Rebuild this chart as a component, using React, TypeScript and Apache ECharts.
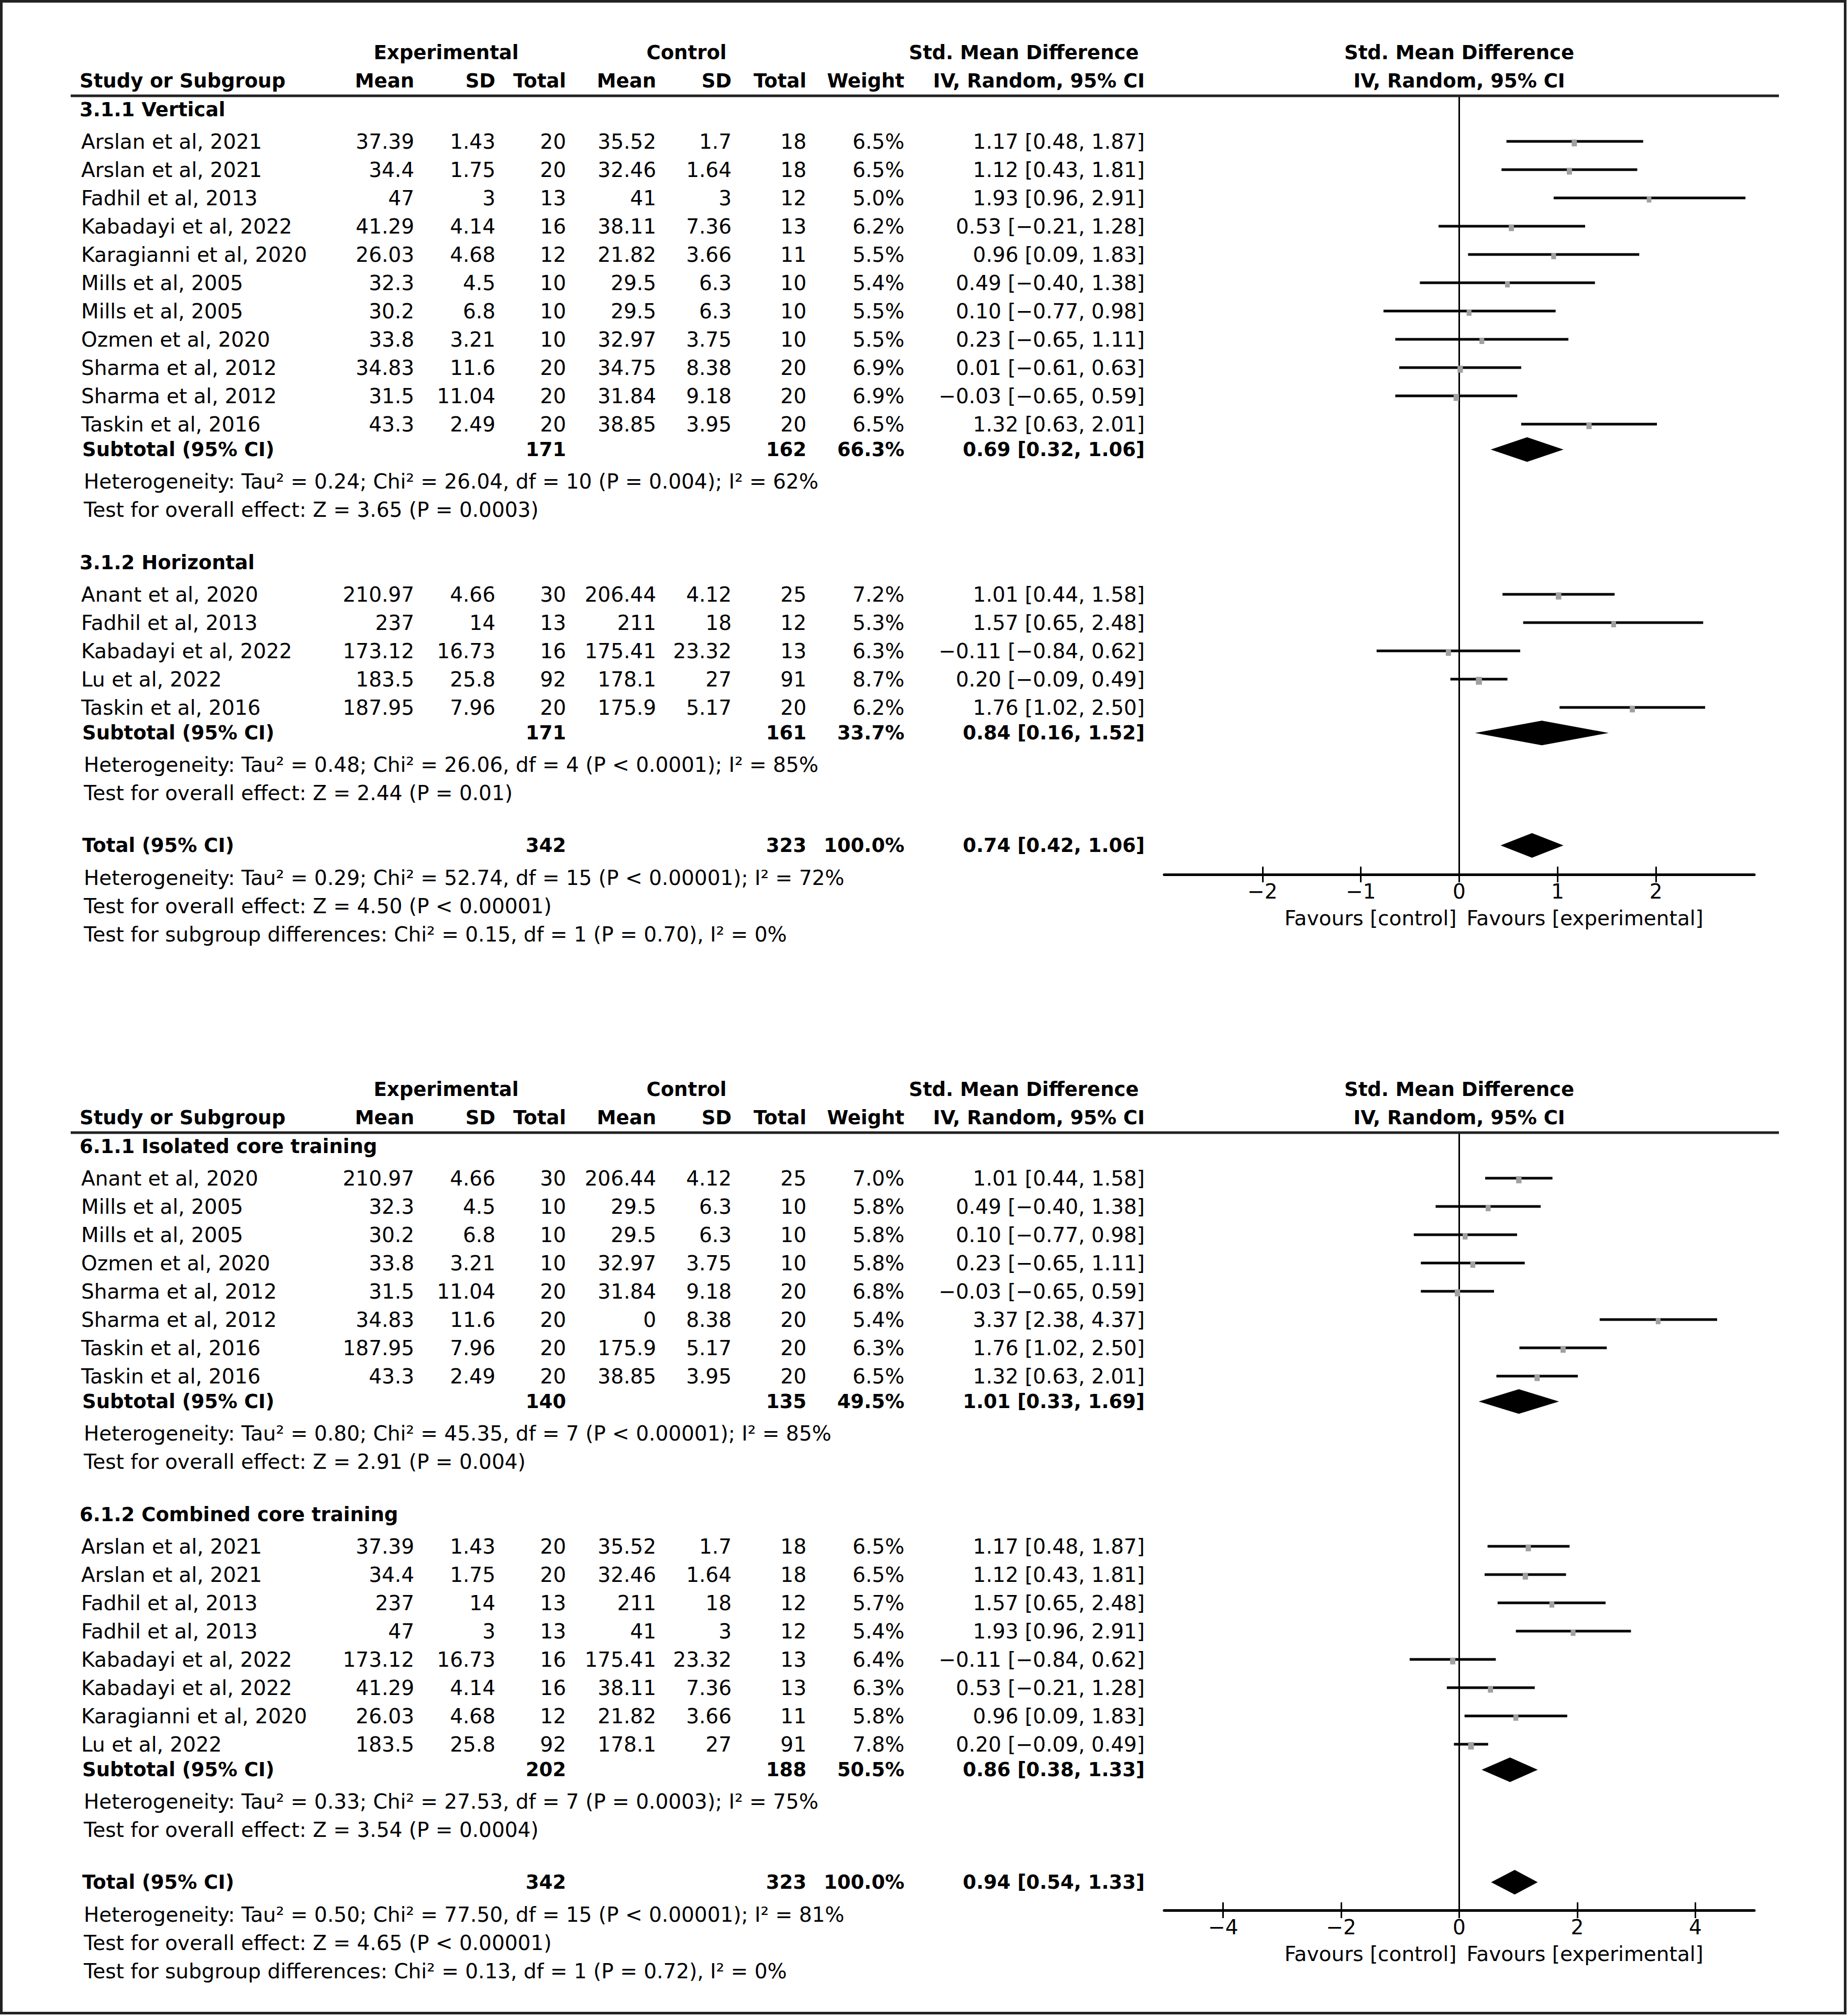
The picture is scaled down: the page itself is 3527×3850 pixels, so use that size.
import React, { useEffect, useRef } from "react";
import * as echarts from "echarts";

// name, expMean, expSD, expN, ctlMean, ctlSD, ctlN, weight(%), SMD, lower, upper
type Study = [string, number, number, number, number, number, number, number, number, number, number];
// expN, ctlN, weight(%), SMD, lower, upper
type Summary = [number, number, number, number, number, number];

// ---------- Panel 1 (3.1) ----------
const P1_SECTION_TITLES = ["3.1.1 Vertical", "3.1.2 Horizontal"];
const P1_VERTICAL: Study[] = [
  ["Arslan et al, 2021", 37.39, 1.43, 20, 35.52, 1.7, 18, 6.5, 1.17, 0.48, 1.87],
  ["Arslan et al, 2021", 34.4, 1.75, 20, 32.46, 1.64, 18, 6.5, 1.12, 0.43, 1.81],
  ["Fadhil et al, 2013", 47, 3, 13, 41, 3, 12, 5.0, 1.93, 0.96, 2.91],
  ["Kabadayi et al, 2022", 41.29, 4.14, 16, 38.11, 7.36, 13, 6.2, 0.53, -0.21, 1.28],
  ["Karagianni et al, 2020", 26.03, 4.68, 12, 21.82, 3.66, 11, 5.5, 0.96, 0.09, 1.83],
  ["Mills et al, 2005", 32.3, 4.5, 10, 29.5, 6.3, 10, 5.4, 0.49, -0.40, 1.38],
  ["Mills et al, 2005", 30.2, 6.8, 10, 29.5, 6.3, 10, 5.5, 0.10, -0.77, 0.98],
  ["Ozmen et al, 2020", 33.8, 3.21, 10, 32.97, 3.75, 10, 5.5, 0.23, -0.65, 1.11],
  ["Sharma et al, 2012", 34.83, 11.6, 20, 34.75, 8.38, 20, 6.9, 0.01, -0.61, 0.63],
  ["Sharma et al, 2012", 31.5, 11.04, 20, 31.84, 9.18, 20, 6.9, -0.03, -0.65, 0.59],
  ["Taskin et al, 2016", 43.3, 2.49, 20, 38.85, 3.95, 20, 6.5, 1.32, 0.63, 2.01],
];
const P1_HORIZONTAL: Study[] = [
  ["Anant et al, 2020", 210.97, 4.66, 30, 206.44, 4.12, 25, 7.2, 1.01, 0.44, 1.58],
  ["Fadhil et al, 2013", 237, 14, 13, 211, 18, 12, 5.3, 1.57, 0.65, 2.48],
  ["Kabadayi et al, 2022", 173.12, 16.73, 16, 175.41, 23.32, 13, 6.3, -0.11, -0.84, 0.62],
  ["Lu et al, 2022", 183.5, 25.8, 92, 178.1, 27, 91, 8.7, 0.20, -0.09, 0.49],
  ["Taskin et al, 2016", 187.95, 7.96, 20, 175.9, 5.17, 20, 6.2, 1.76, 1.02, 2.50],
];
const P1_SUBTOTALS: Summary[] = [
  [171, 162, 66.3, 0.69, 0.32, 1.06],
  [171, 161, 33.7, 0.84, 0.16, 1.52],
];
const P1_SECTION_NOTES: string[][] = [
  [
    "Heterogeneity: Tau² = 0.24; Chi² = 26.04, df = 10 (P = 0.004); I² = 62%",
    "Test for overall effect: Z = 3.65 (P = 0.0003)",
  ],
  [
    "Heterogeneity: Tau² = 0.48; Chi² = 26.06, df = 4 (P < 0.0001); I² = 85%",
    "Test for overall effect: Z = 2.44 (P = 0.01)",
  ],
];
const P1_TOTAL: Summary = [342, 323, 100.0, 0.74, 0.42, 1.06];
const P1_TOTAL_NOTES = [
  "Heterogeneity: Tau² = 0.29; Chi² = 52.74, df = 15 (P < 0.00001); I² = 72%",
  "Test for overall effect: Z = 4.50 (P < 0.00001)",
  "Test for subgroup differences: Chi² = 0.15, df = 1 (P = 0.70), I² = 0%",
];
const P1_TICKS = [-2, -1, 0, 1, 2];
const P1_RANGE = [-3, 3];

// ---------- Panel 2 (6.1) ----------
const P2_SECTION_TITLES = ["6.1.1 Isolated core training", "6.1.2 Combined core training"];
const P2_ISOLATED: Study[] = [
  ["Anant et al, 2020", 210.97, 4.66, 30, 206.44, 4.12, 25, 7.0, 1.01, 0.44, 1.58],
  ["Mills et al, 2005", 32.3, 4.5, 10, 29.5, 6.3, 10, 5.8, 0.49, -0.40, 1.38],
  ["Mills et al, 2005", 30.2, 6.8, 10, 29.5, 6.3, 10, 5.8, 0.10, -0.77, 0.98],
  ["Ozmen et al, 2020", 33.8, 3.21, 10, 32.97, 3.75, 10, 5.8, 0.23, -0.65, 1.11],
  ["Sharma et al, 2012", 31.5, 11.04, 20, 31.84, 9.18, 20, 6.8, -0.03, -0.65, 0.59],
  ["Sharma et al, 2012", 34.83, 11.6, 20, 0, 8.38, 20, 5.4, 3.37, 2.38, 4.37],
  ["Taskin et al, 2016", 187.95, 7.96, 20, 175.9, 5.17, 20, 6.3, 1.76, 1.02, 2.50],
  ["Taskin et al, 2016", 43.3, 2.49, 20, 38.85, 3.95, 20, 6.5, 1.32, 0.63, 2.01],
];
const P2_COMBINED: Study[] = [
  ["Arslan et al, 2021", 37.39, 1.43, 20, 35.52, 1.7, 18, 6.5, 1.17, 0.48, 1.87],
  ["Arslan et al, 2021", 34.4, 1.75, 20, 32.46, 1.64, 18, 6.5, 1.12, 0.43, 1.81],
  ["Fadhil et al, 2013", 237, 14, 13, 211, 18, 12, 5.7, 1.57, 0.65, 2.48],
  ["Fadhil et al, 2013", 47, 3, 13, 41, 3, 12, 5.4, 1.93, 0.96, 2.91],
  ["Kabadayi et al, 2022", 173.12, 16.73, 16, 175.41, 23.32, 13, 6.4, -0.11, -0.84, 0.62],
  ["Kabadayi et al, 2022", 41.29, 4.14, 16, 38.11, 7.36, 13, 6.3, 0.53, -0.21, 1.28],
  ["Karagianni et al, 2020", 26.03, 4.68, 12, 21.82, 3.66, 11, 5.8, 0.96, 0.09, 1.83],
  ["Lu et al, 2022", 183.5, 25.8, 92, 178.1, 27, 91, 7.8, 0.20, -0.09, 0.49],
];
const P2_SUBTOTALS: Summary[] = [
  [140, 135, 49.5, 1.01, 0.33, 1.69],
  [202, 188, 50.5, 0.86, 0.38, 1.33],
];
const P2_SECTION_NOTES: string[][] = [
  [
    "Heterogeneity: Tau² = 0.80; Chi² = 45.35, df = 7 (P < 0.00001); I² = 85%",
    "Test for overall effect: Z = 2.91 (P = 0.004)",
  ],
  [
    "Heterogeneity: Tau² = 0.33; Chi² = 27.53, df = 7 (P = 0.0003); I² = 75%",
    "Test for overall effect: Z = 3.54 (P = 0.0004)",
  ],
];
const P2_TOTAL: Summary = [342, 323, 100.0, 0.94, 0.54, 1.33];
const P2_TOTAL_NOTES = [
  "Heterogeneity: Tau² = 0.50; Chi² = 77.50, df = 15 (P < 0.00001); I² = 81%",
  "Test for overall effect: Z = 4.65 (P < 0.00001)",
  "Test for subgroup differences: Chi² = 0.13, df = 1 (P = 0.72), I² = 0%",
];
const P2_TICKS = [-4, -2, 0, 2, 4];
const P2_RANGE = [-5, 5];

// ---------- Shared labels ----------
const GROUP_HEADERS = ["Experimental", "Control", "Std. Mean Difference", "Std. Mean Difference"];
const COLUMN_HEADERS = ["Study or Subgroup", "Mean", "SD", "Total", "Mean", "SD", "Total", "Weight", "IV, Random, 95% CI", "IV, Random, 95% CI"];
const SUMMARY_LABELS = ["Subtotal (95% CI)", "Total (95% CI)"];
const FAVOURS = ["Favours [control]", "Favours [experimental]"];

// ---------- Layout (pixels) ----------
const W = 3527;
const H = 3850;
const FONT = '"DejaVu Sans", Verdana, sans-serif';
const FS = 39;
const FS_BOLD = 37;
const COL = { section: 152, name: 155, summary: 157, note: 160, eM: 791, eSD: 946, eN: 1081, cM: 1253, cSD: 1397, cN: 1540, w: 1727, ci: 2186, expHead: 852, ctlHead: 1311, smdHead: 1955 };
const GRID_LEFT = 2223;
const GRID_RIGHT = 3350;
const RULE_X = [135, 3397];
const ROW_PX = 54;
const PANEL_LAYOUT = [
  { gridTop: 183, firstRow: 270, axisY: 1670 },
  { gridTop: 2163, firstRow: 2250, axisY: 3648 },
];

const PANELS = [
  { titles: P1_SECTION_TITLES, studies: [P1_VERTICAL, P1_HORIZONTAL], subs: P1_SUBTOTALS, notes: P1_SECTION_NOTES, total: P1_TOTAL, totalNotes: P1_TOTAL_NOTES, ticks: P1_TICKS, range: P1_RANGE },
  { titles: P2_SECTION_TITLES, studies: [P2_ISOLATED, P2_COMBINED], subs: P2_SUBTOTALS, notes: P2_SECTION_NOTES, total: P2_TOTAL, totalNotes: P2_TOTAL_NOTES, ticks: P2_TICKS, range: P2_RANGE },
];

const minus = (v: number, d: number) => (v < 0 ? "\u2212" : "") + Math.abs(v).toFixed(d);
const ciText = (e: number, lo: number, hi: number) => `${minus(e, 2)} [${minus(lo, 2)}, ${minus(hi, 2)}]`;

type Cell = { x: number; text: string; align: "left" | "right" | "center"; bold?: boolean };
type Row = { y: number; cells: Cell[] };

function layoutPanel(p: (typeof PANELS)[number]) {
  const rows: Row[] = [];
  const ci: number[][] = [];
  const diamonds: number[][] = [];
  const mid = (GRID_LEFT + GRID_RIGHT) / 2;
  rows.push({
    y: -3.14,
    cells: [
      { x: COL.expHead, text: GROUP_HEADERS[0], align: "center", bold: true },
      { x: COL.ctlHead, text: GROUP_HEADERS[1], align: "center", bold: true },
      { x: COL.smdHead, text: GROUP_HEADERS[2], align: "center", bold: true },
      { x: mid, text: GROUP_HEADERS[3], align: "center", bold: true },
    ],
  });
  const hx = [COL.name - 3, COL.eM, COL.eSD, COL.eN, COL.cM, COL.cSD, COL.cN, COL.w, COL.ci, mid];
  rows.push({
    y: -2.14,
    cells: COLUMN_HEADERS.map((t, i) => ({ x: hx[i], text: t, align: i === 0 ? "left" : i === 9 ? "center" : "right", bold: true } as Cell)),
  });
  let y = -1.12;
  let lastNote = 0;
  p.titles.forEach((title, si) => {
    if (si > 0) y = lastNote + 1.87;
    rows.push({ y, cells: [{ x: COL.section, text: title, align: "left", bold: true }] });
    y += 1.12;
    const list = p.studies[si];
    list.forEach((s, k) => {
      const yy = y + k;
      rows.push({
        y: yy,
        cells: [
          { x: COL.name, text: s[0], align: "left" },
          { x: COL.eM, text: String(s[1]), align: "right" },
          { x: COL.eSD, text: String(s[2]), align: "right" },
          { x: COL.eN, text: String(s[3]), align: "right" },
          { x: COL.cM, text: String(s[4]), align: "right" },
          { x: COL.cSD, text: String(s[5]), align: "right" },
          { x: COL.cN, text: String(s[6]), align: "right" },
          { x: COL.w, text: s[7].toFixed(1) + "%", align: "right" },
          { x: COL.ci, text: ciText(s[8], s[9], s[10]), align: "right" },
        ],
      });
      ci.push([s[8], s[9], s[10], yy, s[7]]);
    });
    const subY = y + list.length - 1 + 0.9;
    const sub = p.subs[si];
    rows.push({ y: subY, cells: summaryCells(SUMMARY_LABELS[0], sub) });
    diamonds.push([sub[3], sub[4], sub[5], subY]);
    const n0 = subY + 1.13;
    p.notes[si].forEach((t, k) => rows.push({ y: n0 + k, cells: [{ x: COL.note, text: t, align: "left" }] }));
    lastNote = n0 + p.notes[si].length - 1;
  });
  const totY = lastNote + 1.85;
  rows.push({ y: totY, cells: summaryCells(SUMMARY_LABELS[1], p.total) });
  diamonds.push([p.total[3], p.total[4], p.total[5], totY]);
  p.totalNotes.forEach((t, k) => rows.push({ y: totY + 1.14 + k, cells: [{ x: COL.note, text: t, align: "left" }] }));
  return { rows, ci, diamonds };
}

function summaryCells(label: string, s: Summary): Cell[] {
  return [
    { x: COL.summary, text: label, align: "left", bold: true },
    { x: COL.eN, text: String(s[0]), align: "right", bold: true },
    { x: COL.cN, text: String(s[1]), align: "right", bold: true },
    { x: COL.w, text: s[2].toFixed(1) + "%", align: "right", bold: true },
    { x: COL.ci, text: ciText(s[3], s[4], s[5]), align: "right", bold: true },
  ];
}

function txt(x: number, y: number, text: string, align: string, bold?: boolean) {
  return {
    type: "text",
    x,
    y,
    silent: true,
    style: {
      text,
      x: 0,
      y: 0,
      fill: "#000",
      fontSize: bold ? FS_BOLD : FS,
      fontFamily: FONT,
      fontWeight: bold ? "bold" : "normal",
      align,
      verticalAlign: "middle",
      textAlign: align,
      textVerticalAlign: "middle",
    },
  };
}

function buildOption() {
  const grid: any[] = [];
  const xAxis: any[] = [];
  const yAxis: any[] = [];
  const series: any[] = [];

  PANELS.forEach((p, i) => {
    const L = PANEL_LAYOUT[i];
    const yMin = (L.gridTop - L.firstRow) / ROW_PX;
    const yMax = (L.axisY - L.firstRow) / ROW_PX;
    const { rows, ci, diamonds } = layoutPanel(p);

    grid.push({ left: GRID_LEFT, top: L.gridTop, width: GRID_RIGHT - GRID_LEFT, height: L.axisY - L.gridTop, outerBoundsMode: "none", containLabel: false });
    const fmt = (v: number) => (v < 0 ? "\u2212" + Math.abs(v) : String(v));
    xAxis.push({
      type: "value",
      gridIndex: i,
      min: p.range[0],
      max: p.range[1],
      position: "bottom",
      axisLine: { show: true, onZero: false, lineStyle: { color: "#000", width: 5 } },
      axisTick: { show: true, customValues: p.ticks, length: 15, lineStyle: { color: "#000", width: 3 } },
      axisLabel: { show: true, customValues: p.ticks, formatter: fmt, fontSize: FS, fontFamily: FONT, color: "#000", margin: 13 },
      splitLine: { show: false },
    });
    xAxis.push({
      type: "value",
      gridIndex: i,
      min: p.range[0],
      max: p.range[1],
      position: "bottom",
      axisLine: { show: false, onZero: false },
      axisTick: { show: true, inside: true, customValues: p.ticks, length: 15, lineStyle: { color: "#000", width: 3 } },
      axisLabel: { show: false },
      splitLine: { show: false },
    });
    yAxis.push({ type: "value", gridIndex: i, min: yMin, max: yMax, inverse: true, show: false, splitLine: { show: false } });

    const xi = i * 2;
    // zero line + header rule
    series.push({
      type: "custom",
      xAxisIndex: xi,
      yAxisIndex: i,
      clip: false,
      silent: true,
      data: [[0, yMin]],
      renderItem: (_params: any, api: any) => {
        const top = api.coord([0, yMin]);
        const bot = api.coord([0, yMax]);
        return {
          type: "group",
          children: [
            { type: "line", shape: { x1: top[0], y1: top[1], x2: top[0], y2: bot[1] }, style: { stroke: "#000", lineWidth: 3 } },
            { type: "line", shape: { x1: RULE_X[0], y1: top[1], x2: RULE_X[1], y2: top[1] }, style: { stroke: "#222", lineWidth: 5 } },
          ],
        };
      },
    });
    // confidence intervals + squares
    series.push({
      type: "custom",
      xAxisIndex: xi,
      yAxisIndex: i,
      clip: false,
      silent: true,
      data: ci,
      encode: { x: [0, 1, 2], y: 3 },
      renderItem: (_params: any, api: any) => {
        const yv = api.value(3);
        const a = api.coord([api.value(1), yv]);
        const b = api.coord([api.value(2), yv]);
        const e = api.coord([api.value(0), yv]);
        const k = Math.sqrt(api.value(4) / 6.5);
        const w = 10 * k;
        const h = 13 * k;
        return {
          type: "group",
          children: [
            { type: "line", shape: { x1: a[0], y1: a[1], x2: b[0], y2: b[1] }, style: { stroke: "#000", lineWidth: 5 } },
            { type: "rect", shape: { x: e[0] - w / 2, y: e[1] - h / 2 + 3, width: w, height: h }, style: { fill: "#a0a0a0" } },
          ],
        };
      },
    });
    // diamonds
    series.push({
      type: "custom",
      xAxisIndex: xi,
      yAxisIndex: i,
      clip: false,
      silent: true,
      data: diamonds,
      encode: { x: [0, 1, 2], y: 3 },
      renderItem: (_params: any, api: any) => {
        const yv = api.value(3);
        const a = api.coord([api.value(1), yv]);
        const b = api.coord([api.value(2), yv]);
        const e = api.coord([api.value(0), yv]);
        const hh = 23.5;
        return {
          type: "polygon",
          shape: { points: [[a[0], a[1]], [e[0], e[1] - hh], [b[0], b[1]], [e[0], e[1] + hh]] },
          style: { fill: "#000" },
        };
      },
    });
    // table text
    series.push({
      type: "custom",
      xAxisIndex: xi,
      yAxisIndex: i,
      clip: false,
      silent: true,
      data: rows.map((r) => [0, r.y]),
      renderItem: (params: any, api: any) => {
        const row = rows[params.dataIndex];
        const py = api.coord([0, api.value(1)])[1];
        return { type: "group", children: row.cells.map((c) => txt(c.x, py, c.text, c.align, c.bold)) };
      },
    });
    // favours labels
    series.push({
      type: "custom",
      xAxisIndex: xi,
      yAxisIndex: i,
      clip: false,
      silent: true,
      data: [[0, yMax]],
      renderItem: (_params: any, api: any) => {
        const pt = api.coord([0, yMax]);
        return {
          type: "group",
          children: [txt(pt[0] - 5, pt[1] + 83, FAVOURS[0], "right"), txt(pt[0] + 14, pt[1] + 83, FAVOURS[1], "left")],
        };
      },
    });
  });

  return {
    animation: false,
    backgroundColor: "#fff",
    grid,
    xAxis,
    yAxis,
    series,
    graphic: [
      {
        type: "rect",
        silent: true,
        shape: { x: 2.5, y: 2.5, width: 3521, height: 3842 },
        style: { fill: "none", stroke: "#222", lineWidth: 5 },
      },
    ],
  };
}

export default function App() {
  const ref = useRef<HTMLDivElement>(null);
  useEffect(() => {
    document.body.style.margin = "0";
    const chart = echarts.init(ref.current!, null, { renderer: "svg", width: W, height: H });
    chart.setOption(buildOption() as any);
    return () => chart.dispose();
  }, []);
  return <div ref={ref} style={{ width: W, height: H, background: "#fff" }} />;
}
